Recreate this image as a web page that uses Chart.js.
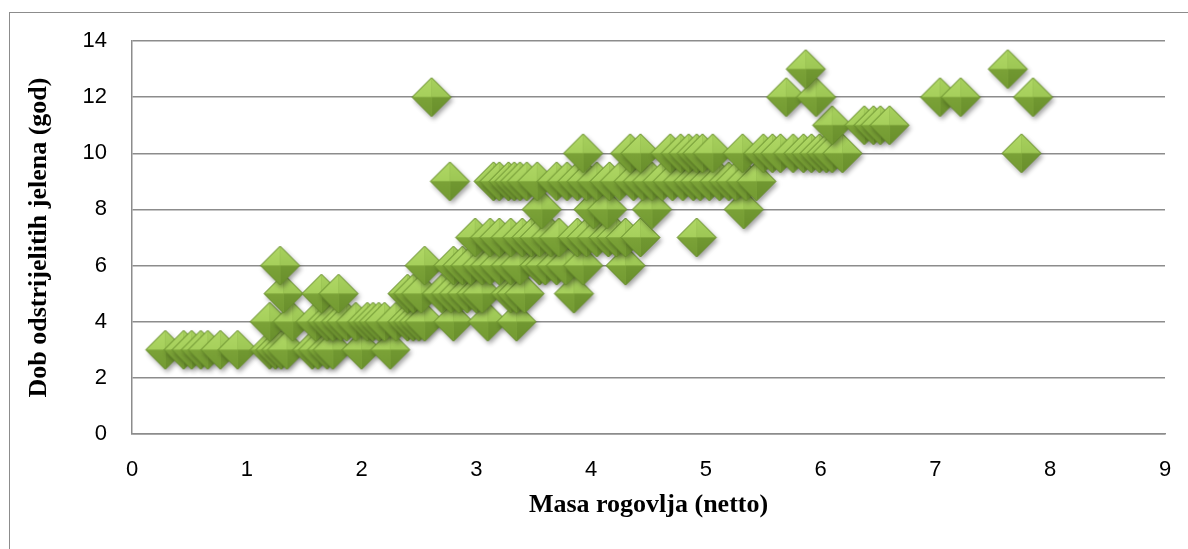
<!DOCTYPE html>
<html>
<head>
<meta charset="utf-8">
<script src="https://cdn.jsdelivr.net/npm/chart.js@4.4.1/dist/chart.umd.min.js"></script>
<style>
  body { margin: 0; background: #fff; }
  canvas { display: block; }
</style>
</head>
<body>
<canvas id="jeleniChart" width="1188" height="549"></canvas>
<script>
// masa rogovlja (netto) for each age of the shot deer
var dob3 = [0.29, 0.45, 0.52, 0.6, 0.66, 0.77, 0.92, 1.2, 1.25, 1.3, 1.35, 1.57, 1.62, 1.7, 1.75, 2.0, 2.25]
var dob4 = [1.2, 1.4, 1.6, 1.7, 1.75, 1.82, 1.87, 1.95, 2.05, 2.1, 2.15, 2.2, 2.3, 2.4, 2.45, 2.5, 2.55, 2.8, 3.1, 3.35]
var dob5 = [1.32, 1.65, 1.8, 2.4, 2.45, 2.52, 2.7, 2.78, 2.85, 2.92, 3.0, 3.05, 3.3, 3.35, 3.42, 3.85]
var dob6 = [1.29, 2.55, 2.8, 2.88, 2.95, 3.05, 3.12, 3.2, 3.3, 3.38, 3.55, 3.6, 3.7, 3.78, 3.93, 4.3]
var dob7 = [2.99, 3.12, 3.2, 3.3, 3.4, 3.48, 3.55, 3.65, 3.72, 3.88, 3.96, 4.05, 4.15, 4.22, 4.3, 4.43, 4.92]
var dob8 = [3.57, 4.02, 4.14, 4.53, 5.33]
var dob9 = [2.77, 3.15, 3.2, 3.28, 3.33, 3.38, 3.44, 3.53, 3.7, 3.79, 3.88, 3.96, 4.05, 4.16, 4.25, 4.37, 4.45, 4.53, 4.62, 4.71, 4.8, 4.89, 4.95, 5.03, 5.12, 5.2, 5.26, 5.35, 5.44]
var dob10 = [3.93, 4.34, 4.43, 4.69, 4.78, 4.85, 4.92, 4.97, 5.06, 5.32, 5.5, 5.58, 5.65, 5.76, 5.85, 5.92, 5.99, 6.05, 6.1, 6.19, 7.75]
var dob11 = [6.1, 6.38, 6.46, 6.52, 6.6]
var dob12 = [2.61, 5.7, 5.96, 7.04, 7.22, 7.85]
var dob13 = [5.87, 7.63]

var dobi = [3, 4, 5, 6, 7, 8, 9, 10, 11, 12, 13]
var masePoDobi = [dob3, dob4, dob5, dob6, dob7, dob8, dob9, dob10, dob11, dob12, dob13]

var xMin = 0, xMax = 9, xStep = 1
var yMin = 0, yMax = 14, yStep = 2

var tocke = []
masePoDobi.forEach(function (mase, i) {
  mase.forEach(function (m) {
    tocke.push({ x: m, y: dobi[i] })
  })
})

// bevelled green diamond like the Excel marker
function napraviRomb() {
  var r = 19.5, pad = 7
  var c = document.createElement('canvas')
  c.width = c.height = (r + pad) * 2
  var g = c.getContext('2d')
  var cx = r + pad, cy = r + pad

  function romb() {
    g.beginPath()
    g.moveTo(cx - r, cy)
    g.lineTo(cx, cy - r)
    g.lineTo(cx + r, cy)
    g.lineTo(cx, cy + r)
    g.closePath()
  }
  function lice(ax, ay, bx, by, boja1, boja2) {
    var grad = g.createLinearGradient(cx, cy - r, cx, cy + r)
    grad.addColorStop(0, boja1)
    grad.addColorStop(1, boja2)
    g.beginPath()
    g.moveTo(cx, cy)
    g.lineTo(ax, ay)
    g.lineTo(bx, by)
    g.closePath()
    g.fillStyle = grad
    g.fill()
  }

  g.save()
  g.shadowColor = 'rgba(0,0,0,0.38)'
  g.shadowBlur = 5
  g.shadowOffsetX = 2
  g.shadowOffsetY = 3
  romb()
  g.fillStyle = '#86ad42'
  g.fill()
  g.restore()

  lice(cx - r, cy, cx, cy - r, '#b0d866', '#9cc750') // upper left
  lice(cx, cy - r, cx + r, cy, '#a8d15e', '#93bd4b') // upper right
  lice(cx + r, cy, cx, cy + r, '#7aa237', '#698f2c') // lower right
  lice(cx, cy + r, cx - r, cy, '#83ab3d', '#739a32') // lower left

  romb()
  g.strokeStyle = '#648a2a'
  g.lineWidth = 1
  g.stroke()
  return c
}

var okvir = {
  id: 'okvir',
  beforeDraw: function (chart) {
    var ctx = chart.ctx
    ctx.save()
    ctx.strokeStyle = '#8c8c8c'
    ctx.lineWidth = 1
    ctx.strokeRect(9.5, 12.5, 1200, 600)
    ctx.restore()
  },
}

var ctx = document.getElementById('jeleniChart').getContext('2d')
var jeleniChart = new Chart(ctx, {
  type: 'scatter',
  data: {
    datasets: [
      {
        label: 'Dob',
        data: tocke,
        pointStyle: napraviRomb(),
        pointRadius: 19,
        pointHoverRadius: 19,
      },
    ],
  },
  options: {
    responsive: false,
    devicePixelRatio: 1,
    animation: false,
    layout: {
      padding: { left: 24, top: 41, right: 23, bottom: 28 },
    },
    plugins: {
      legend: { display: false },
      tooltip: { enabled: false },
    },
    scales: {
      x: {
        type: 'linear',
        min: xMin,
        max: xMax,
        afterFit: function (scale) {
          scale.height = 87
          scale.paddingLeft = 0
          scale.paddingRight = 0
        },
        ticks: {
          stepSize: xStep,
          padding: 23,
          color: '#000',
          font: { family: 'Liberation Sans', size: 22 },
        },
        grid: { display: false, drawTicks: false },
        border: { display: true, color: '#8c8c8c', width: 1.5 },
        title: {
          display: true,
          text: 'Masa rogovlja (netto)',
          color: '#000',
          font: { family: 'Liberation Serif', size: 26, weight: 'bold' },
          padding: { top: 0, bottom: 0 },
        },
      },
      y: {
        type: 'linear',
        min: yMin,
        max: yMax,
        afterFit: function (scale) {
          scale.width = 108
          scale.paddingTop = 0
          scale.paddingBottom = 0
        },
        ticks: {
          stepSize: yStep,
          padding: 25,
          color: '#000',
          font: { family: 'Liberation Sans', size: 22 },
        },
        grid: { color: '#8c8c8c', lineWidth: 1.5, drawTicks: false },
        border: { display: true, color: '#8c8c8c', width: 1.5 },
        title: {
          display: true,
          text: 'Dob odstrijelitih jelena (god)',
          color: '#000',
          font: { family: 'Liberation Serif', size: 26, weight: 'bold' },
          padding: { top: 0, bottom: 0 },
        },
      },
    },
  },
  plugins: [okvir],
})
</script>
</body>
</html>
